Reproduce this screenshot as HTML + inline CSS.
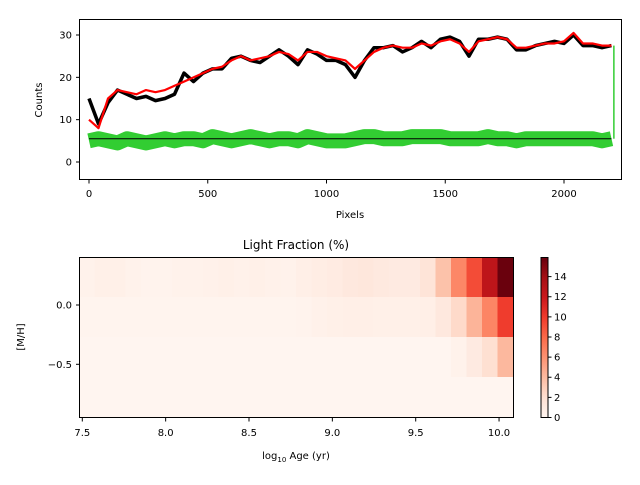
<!DOCTYPE html>
<html><head><meta charset="utf-8"><style>
body{margin:0;background:#fff;font-family:"Liberation Sans","DejaVu Sans",sans-serif}
svg text{font-family:"DejaVu Sans","Liberation Sans",sans-serif;fill:#000}
</style></head><body>
<svg id="c" width="640" height="480" xmlns="http://www.w3.org/2000/svg"></svg>
<script>
// top spectrum data (pixel step 40)
const specX = [0,40,80,120,160,200,240,280,320,360,400,440,480,520,560,600,640,680,720,760,800,840,880,920,960,1000,1040,1080,1120,1160,1200,1240,1280,1320,1360,1400,1440,1480,1520,1560,1600,1640,1680,1720,1760,1800,1840,1880,1920,1960,2000,2040,2080,2120,2160,2200];
const obsCounts = [15,9,14,17,16,15,15.5,14.5,15,16,21,19,21,22,22,24.5,25,24,23.5,25,26.5,25,23,26.5,25.5,24,24,23,20,24,27,27,27.5,26,27,28.5,27,29,29.5,28.5,25,29,29,29.5,29,26.5,26.5,27.5,28,28.5,28,30,27.5,27.5,27,27.5];
const modelCounts = [10,8,15,17,16.5,16,17,16.5,17,18,19,20,21,22,22.5,24,25,24,24.5,25,26,25.5,24,26,26,25,24.5,24,22,24,26,27,27.5,27,27,28,27.5,28.5,29,28,26,28.5,29,29.5,29,27,27,27.5,28,28,28.5,30.5,28,28,27.5,27.5];
const residCounts = [5,5.5,5,4.5,5.5,5,4.5,5,5.5,5,5.5,5.5,5,6,5.5,5,5.5,6,5.5,5,5.5,5.5,5,6,5.5,5,5,5,5.5,6,6,5.5,5.5,5.5,6,6,6,6,5.5,5.5,5.5,5.5,6,5.5,5.5,5,5.5,5.5,5.5,5.5,5.5,5.5,5.5,5.5,5,5.5];
const topXTicks = [0,500,1000,1500,2000];
const topYTicks = [0,10,20,30];
// heatmap data (4 metallicity rows top->bottom, 28 age columns)
const ageTicks = [7.5,8.0,8.5,9.0,9.5,10.0];
const mhTicks = [0.0,-0.5];
const lightRow0 = [0.3,0.5,0.5,0.3,0.2,0.2,0.3,0.3,0.4,0.5,0.4,0.5,0.4,0.3,0.6,0.8,0.9,1.2,1.3,1.1,1.0,1.0,1.6,3.6,6.5,9.2,12.6,15.8];
const lightRow1 = [0.1,0.1,0.1,0.1,0.1,0.1,0.1,0.1,0.1,0.1,0.1,0.1,0.1,0.1,0.2,0.4,0.5,0.6,0.6,0.5,0.5,0.5,0.6,1.2,2.3,4.3,6.6,9.9];
const lightRow2 = [0,0,0,0,0,0,0,0,0,0,0,0,0,0,0,0,0,0,0,0,0,0,0,0,0.3,1.0,2.0,4.1];
const lightRow3 = [0,0,0,0,0,0,0,0,0,0,0,0,0,0,0,0,0,0,0,0,0,0,0,0,0,0,0,0];
const cbTicks = [0,2,4,6,8,10,12,14];

const S="http://www.w3.org/2000/svg", svg=document.getElementById('c');
function el(t,a,p){const e=document.createElementNS(S,t);for(const k in a)e.setAttribute(k,a[k]);(p||svg).appendChild(e);return e;}
function txt(x,y,s,anchor,size,p){const e=el('text',{x:x,y:y,'text-anchor':anchor||'middle','font-size':size||10},p);e.textContent=s;return e;}

// top axes
const TX=v=>89+v*0.2375, TY=v=>162-v*4.233;
const gTop=el('g',{});
function line(arr,color,w,name){const p=el('polyline',{points:specX.map((x,i)=>TX(x)+','+TY(arr[i])).join(' '),fill:'none',stroke:color,'stroke-width':w,'stroke-linejoin':'round'},gTop);return p;}
const rb=line(residCounts,'#32cd32',15,'residual-band');
const rl=el('line',{x1:TX(2210),x2:TX(2210),y1:TY(5.5),y2:TY(27.5),stroke:'#32cd32','stroke-width':1.5},gTop);
const bl=el('line',{x1:TX(0),x2:TX(2200),y1:TY(5.5),y2:TY(5.5),stroke:'#000','stroke-width':1},gTop);
line(obsCounts,'#000',3.5,'observed-spectrum');
line(modelCounts,'#f00',2.2,'model-spectrum');
const f1=el('rect',{x:79.5,y:19.5,width:542,height:160,fill:'none',stroke:'#000','stroke-width':1});
topXTicks.forEach(v=>{el('line',{x1:TX(v),x2:TX(v),y1:180,y2:183.5,stroke:'#000'});const t=txt(TX(v),197,v);});
topYTicks.forEach(v=>{el('line',{x1:76,x2:79.5,y1:TY(v),y2:TY(v),stroke:'#000'});const t=txt(72,TY(v)+3.5,v,'end');});
let t=txt(350,218,'Pixels');
t=txt(0,0,'Counts');t.setAttribute('transform','translate(42,100) rotate(-90)');

// heatmap
const rows=[lightRow0,lightRow1,lightRow2,lightRow3];
const vmax=15.9;
const stops=['#fff5f0','#fee0d2','#fcbba1','#fc9272','#fb6a4a','#ef3b2c','#cb181d','#a50f15','#67000d'];
function hex(h){return [1,3,5].map(i=>parseInt(h.substr(i,2),16));}
function reds(v){let f=Math.max(0,Math.min(1,v/vmax))*8;let i=Math.min(7,Math.floor(f));let a=hex(stops[i]),b=hex(stops[i+1]),u=f-i;return 'rgb('+a.map((c,k)=>Math.round(c+(b[k]-c)*u)).join(',')+')';}
const HX=v=>82.3+(v-7.5)*166.7;
const cw=434/28;
const gH=el('g',{});
rows.forEach((r,ri)=>r.forEach((v,ci)=>{const c=el('rect',{x:79+ci*cw,y:257+ri*40,width:cw+0.5,height:40.5,fill:reds(v)},gH);}));
const f2=el('rect',{x:79.5,y:257.5,width:434,height:160,fill:'none',stroke:'#000'});
ageTicks.forEach(v=>{el('line',{x1:HX(v),x2:HX(v),y1:418,y2:421.5,stroke:'#000'});const t=txt(HX(v),436,v.toFixed(1));});
const HY=v=>305-(v)*118.6;
mhTicks.forEach(v=>{el('line',{x1:76,x2:79.5,y1:HY(v),y2:HY(v),stroke:'#000'});const t=txt(72,HY(v)+3.5,v===0?'0.0':'\u22120.5','end');});
t=txt(296,249,'Light Fraction (%)','middle',12);
t=el('text',{x:296,y:459,'text-anchor':'middle','font-size':10});t.innerHTML='log<tspan font-size="7" dy="3">10</tspan><tspan dy="-3"> Age (yr)</tspan>';
t=txt(0,0,'[M/H]');t.setAttribute('transform','translate(24,337) rotate(-90)');

// colorbar
const defs=el('defs',{});const lg=el('linearGradient',{id:'g',x1:0,y1:1,x2:0,y2:0},defs);
stops.forEach((s,i)=>el('stop',{offset:i/8,'stop-color':s},lg));
const cb=el('rect',{x:541,y:257.5,width:7,height:160,fill:'url(#g)',stroke:'#000'});
const CY=v=>417.5-v*(160/vmax);
cbTicks.forEach(v=>{el('line',{x1:548,x2:551.5,y1:CY(v),y2:CY(v),stroke:'#000'});const t=txt(554,CY(v)+3.5,v,'start');});
</script>
</body></html>
